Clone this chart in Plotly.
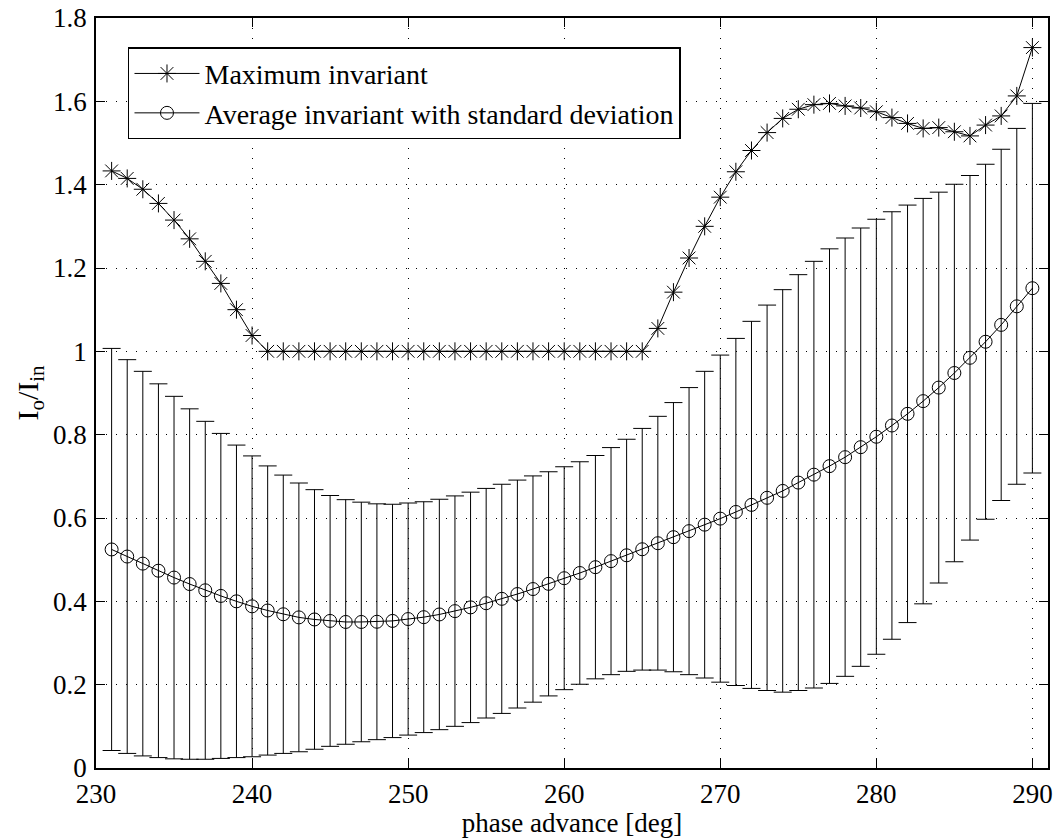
import plotly.graph_objects as go

# Phase advance scan points [deg]
phase = list(range(231, 291))

# Maximum invariant I_o/I_in over the ensemble
max_inv = [1.433, 1.415, 1.389, 1.355, 1.315, 1.270, 1.216, 1.163, 1.100, 1.038,
           1.000, 1.000, 1.000, 1.000, 1.000, 1.000, 1.000, 1.000, 1.000, 1.000,
           1.000, 1.000, 1.000, 1.000, 1.000, 1.000, 1.000, 1.000, 1.000, 1.000,
           1.000, 1.000, 1.000, 1.000, 1.000, 1.055, 1.142, 1.224, 1.300, 1.370,
           1.431, 1.482, 1.525, 1.559, 1.581, 1.592, 1.595, 1.589, 1.584, 1.575,
           1.561, 1.547, 1.535, 1.537, 1.527, 1.517, 1.543, 1.565, 1.613, 1.729]

# Average invariant
avg_inv = [0.5245, 0.5075, 0.4905, 0.4735, 0.457, 0.4415, 0.4265, 0.413, 0.400, 0.388,
           0.378, 0.369, 0.3615, 0.3565, 0.353, 0.3505, 0.3505, 0.351, 0.353, 0.3575,
           0.362, 0.3685, 0.3765, 0.3855, 0.3955, 0.406, 0.4175, 0.4295, 0.442, 0.4555,
           0.468, 0.482, 0.4965, 0.5105, 0.525, 0.5395, 0.554, 0.5685, 0.584, 0.5985,
           0.6145, 0.6315, 0.6485, 0.665, 0.685, 0.704, 0.7245, 0.746, 0.770, 0.795,
           0.822, 0.850, 0.8805, 0.913, 0.948, 0.9845, 1.023, 1.0635, 1.108, 1.1515]

# Standard deviation of the invariant
std_inv = [0.4825, 0.4725, 0.4615, 0.4485, 0.435, 0.4205, 0.4055, 0.390, 0.375, 0.361,
           0.347, 0.334, 0.3225, 0.3115, 0.301, 0.2935, 0.2875, 0.283, 0.280, 0.2785,
           0.277, 0.2765, 0.2765, 0.2765, 0.2755, 0.275, 0.2735, 0.2715, 0.269, 0.2675,
           0.267, 0.268, 0.2725, 0.2785, 0.290, 0.3045, 0.323, 0.3445, 0.368, 0.3925,
           0.4165, 0.4405, 0.4625, 0.483, 0.499, 0.512, 0.5215, 0.526, 0.526, 0.522,
           0.513, 0.501, 0.4865, 0.469, 0.453, 0.4375, 0.426, 0.4215, 0.427, 0.4435]

x_ticks = [230, 240, 250, 260, 270, 280, 290]
y_ticks = [0, 0.2, 0.4, 0.6, 0.8, 1.0, 1.2, 1.4, 1.6, 1.8]
y_tick_text = ["0", "0.2", "0.4", "0.6", "0.8", "1", "1.2", "1.4", "1.6", "1.8"]

FONT = "Times New Roman"

fig = go.Figure()

fig.add_trace(go.Scatter(
    x=phase, y=max_inv, mode="lines+markers",
    name="Maximum invariant",
    line=dict(color="black", width=1),
    marker=dict(symbol="asterisk-open", size=15, color="black",
                line=dict(color="black", width=1)),
))

fig.add_trace(go.Scatter(
    x=phase, y=avg_inv, mode="lines+markers",
    name="Average invariant with standard deviation",
    line=dict(color="black", width=1),
    marker=dict(symbol="circle-open", size=13, color="black",
                line=dict(color="black", width=1)),
    error_y=dict(type="data", array=std_inv, visible=True,
                 color="black", thickness=1, width=9),
))

axis_common = dict(
    showline=True, linecolor="black", linewidth=1.5, mirror="ticks",
    ticks="inside", ticklen=9, tickwidth=1, tickcolor="black",
    showgrid=True, gridcolor="black", gridwidth=1, griddash="1px,9px",
    zeroline=False, automargin=False,
    tickfont=dict(family=FONT, size=27, color="black"),
)

fig.update_xaxes(
    range=[230, 291], tickvals=x_ticks, ticklabelstandoff=1,
    title=dict(text="phase advance [deg]", standoff=0,
               font=dict(family=FONT, size=27, color="black")),
    **axis_common,
)
fig.update_yaxes(
    range=[0, 1.8], tickvals=y_ticks, ticktext=y_tick_text, ticklabelstandoff=2,
    title=dict(text="I<sub>o</sub>/I<sub>in</sub>", standoff=6,
               font=dict(family=FONT, size=30, color="black")),
    **axis_common,
)

fig.update_layout(
    width=1060, height=838,
    margin=dict(l=96, r=12, t=18, b=70, autoexpand=False),
    paper_bgcolor="white", plot_bgcolor="white",
    font=dict(family=FONT, color="black"),
    showlegend=True,
    legend=dict(
        x=0.0336, y=0.961, xanchor="left", yanchor="top",
        bgcolor="white", bordercolor="black", borderwidth=1.5,
        font=dict(family=FONT, size=28, color="black"),
        itemwidth=65, tracegroupgap=0,
    ),
)

fig.write_html("out.html")
